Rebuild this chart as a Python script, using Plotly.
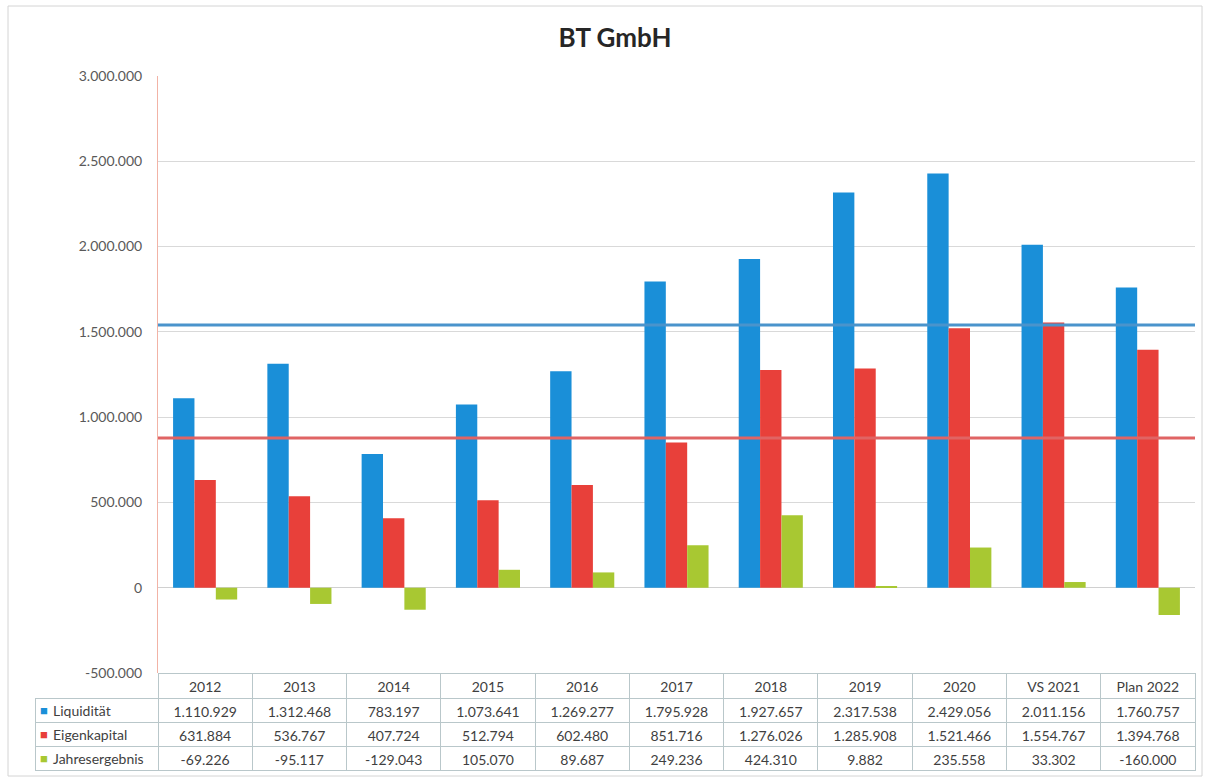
import plotly.graph_objects as go

# Daten aus der Vorlage
kategorien = ["2012", "2013", "2014", "2015", "2016", "2017", "2018",
              "2019", "2020", "VS 2021", "Plan 2022"]
liquiditaet = [1110929, 1312468, 783197, 1073641, 1269277, 1795928,
               1927657, 2317538, 2429056, 2011156, 1760757]
eigenkapital = [631884, 536767, 407724, 512794, 602480, 851716,
                1276026, 1285908, 1521466, 1554767, 1394768]
jahresergebnis = [-69226, -95117, -129043, 105070, 89687, 249236,
                  424310, 9882, 235558, 33302, -160000]

# Referenzlinien (im Original von Hand eingezeichnet, Werte geschaetzt)
linie_liquiditaet = 1540000
linie_eigenkapital = 878000

y_ticks = [-500000, 0, 500000, 1000000, 1500000, 2000000, 2500000, 3000000]

serien = [
    ("Liquidität", liquiditaet, "#1a8fd8"),
    ("Eigenkapital", eigenkapital, "#e8403a"),
    ("Jahresergebnis", jahresergebnis, "#a8c832"),
]

FONT = "Lato"
W, H = 1210, 777
ML, MR, MT, MB = 35, 15, 76, 6
plot_links = 158          # linke Achse in Pixel
kopf_h, zeile_h = 25, 24  # Tabellenkopf / Tabellenzeile in Pixel
tabelle_h = kopf_h + 3 * zeile_h + 1
text_farbe = "#3f3f3f"


def fmt(v: int) -> str:
    """ deutsche Tausendertrennung """
    return f"{v:,}".replace(",", ".")


paper_w = W - ML - MR
paper_h = H - MT - MB
x_start = (plot_links - ML) / paper_w
y_start = tabelle_h / paper_h

fig = go.Figure()
for name, werte, farbe in serien:
    fig.add_trace(go.Bar(x=kategorien, y=werte, name=name,
                         marker=dict(color=farbe, line=dict(width=0)),
                         showlegend=False))

# Datentabelle unter dem Diagramm (Zeilentitel kommen als Annotationen)
spalten = [["", "", ""]] + [[fmt(liquiditaet[i]), fmt(eigenkapital[i]), fmt(jahresergebnis[i])]
                            for i in range(len(kategorien))]
linie = "#b9c7ca"
kat_breite = (paper_w - (plot_links - ML)) / len(kategorien)
fig.add_trace(go.Table(
    domain=dict(x=[0, 1], y=[0, y_start]),
    columnwidth=[plot_links - ML] + [kat_breite] * len(kategorien),
    header=dict(values=[""] + kategorien, height=kopf_h,
                fill=dict(color=["rgba(0,0,0,0)"] + ["white"] * len(kategorien)),
                line=dict(color=["rgba(0,0,0,0)"] + [linie] * len(kategorien), width=1),
                align="center", font=dict(family=FONT, size=14, color=text_farbe)),
    cells=dict(values=spalten, height=zeile_h,
               fill=dict(color="white"),
               line=dict(color=linie, width=1),
               align="center",
               font=dict(family=FONT, size=14, color=text_farbe)),
))

# Legendenquadrate und Zeilentitel
for i, (name, _, farbe) in enumerate(serien):
    mitte = (tabelle_h - kopf_h - zeile_h * (i + 0.5)) / paper_h
    fig.add_annotation(text="■", xref="paper", yref="paper",
                       x=9 / paper_w, y=mitte, xanchor="center", yanchor="middle",
                       showarrow=False, font=dict(size=13, color=farbe))
    fig.add_annotation(text=name, xref="paper", yref="paper",
                       x=16 / paper_w, y=mitte, xanchor="left", yanchor="middle",
                       showarrow=False, font=dict(family=FONT, size=14, color=text_farbe))

# Referenzlinien und Rahmen
fig.add_shape(type="line", xref="x domain", x0=0, x1=1, yref="y",
              y0=linie_liquiditaet, y1=linie_liquiditaet,
              line=dict(color="#4a94cc", width=3), layer="above")
fig.add_shape(type="line", xref="x domain", x0=0, x1=1, yref="y",
              y0=linie_eigenkapital, y1=linie_eigenkapital,
              line=dict(color="#e06464", width=3), layer="above")
fig.add_shape(type="rect", xref="paper", yref="paper",
              x0=(8 - ML) / paper_w, x1=(1202 - ML) / paper_w,
              y0=(H - MB - 776) / paper_h, y1=(H - MB - 6) / paper_h,
              line=dict(color="#d4d4d4", width=1), layer="below")

fig.update_layout(
    width=W, height=H,
    margin=dict(l=ML, r=MR, t=MT, b=MB),
    paper_bgcolor="white", plot_bgcolor="white",
    barmode="group", bargap=0.32, bargroupgap=0,
    font=dict(family=FONT, color="#595959"),
    title=dict(text="<b>BT GmbH</b>", x=0.5, xref="paper", y=1 - 38 / H, yanchor="middle",
               font=dict(family=FONT, size=26, color="#262626")),
    xaxis=dict(type="category", domain=[x_start, 1], showticklabels=False,
               showgrid=False, showline=False, zeroline=False, automargin=False),
    yaxis=dict(domain=[y_start, 1], range=[-500000, 3000000], automargin=False,
               tickvals=y_ticks, ticktext=[fmt(v) for v in y_ticks],
               showgrid=True, gridcolor="#d9d9d9", gridwidth=1,
               zeroline=True, zerolinecolor="#d0d0d0", zerolinewidth=1,
               showline=True, linecolor="#f2b3a6", linewidth=1,
               ticklabelstandoff=12, tickfont=dict(family=FONT, size=14, color="#595959")),
)

fig.write_html("out.html", config={"displayModeBar": False},
               post_script="document.body.style.margin='0';")
